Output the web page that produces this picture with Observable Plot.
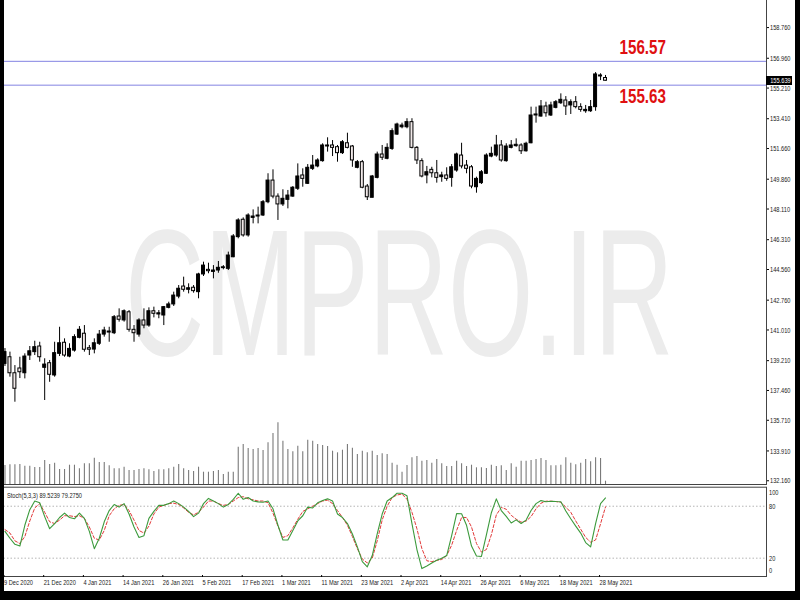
<!DOCTYPE html>
<html><head><meta charset="utf-8">
<script src="https://cdn.jsdelivr.net/npm/d3@7"></script>
<script src="https://cdn.jsdelivr.net/npm/@observablehq/plot@0.6"></script>
<style>
html,body{margin:0;padding:0;background:#000;}
#chart{position:relative;width:800px;height:600px;background:#000;overflow:hidden;}
#paper{position:absolute;left:4px;top:0;width:791px;height:591px;background:#fff;}
#chart svg{position:absolute;left:0;top:0;}
.strip{position:absolute;background:#000;}
#pricebox{position:absolute;background:#000;color:#fff;font:8px 'Liberation Sans',Arial,sans-serif;line-height:9px;text-align:center;overflow:hidden;}
#pricebox span{display:inline-block;transform:scaleX(0.71);transform-origin:50% 50%;}
</style>
</head><body>
<div id="chart"><div id="paper"></div></div>
<script>
// ---- data (GBPJPY daily, 9 Dec 2020 .. 31 May 2021) ----
const open = [139.02,139.41,138.47,138.75,138.47,139.51,139.71,140.04,138.79,139.06,138.34,139.61,140.26,139.45,139.80,140.55,140.79,139.94,139.86,140.20,140.74,140.86,140.82,141.80,141.57,142.05,141.02,140.74,141.57,141.27,142.11,141.92,141.86,142.31,142.51,142.97,143.56,143.37,143.49,143.23,144.27,144.54,144.42,144.50,144.64,144.60,145.28,146.46,147.48,146.56,147.59,147.67,147.73,148.51,149.78,148.84,148.38,148.65,148.84,149.30,150.08,149.59,150.47,150.61,150.92,151.78,151.84,151.74,151.39,151.97,151.78,150.53,150.86,149.43,148.77,149.94,151.31,151.06,151.64,152.48,152.91,152.91,153.21,151.70,150.92,150.08,150.41,150.21,149.98,150.08,149.94,150.37,151.25,150.66,150.56,149.39,149.63,150.18,151.19,151.25,151.84,150.92,151.70,151.80,151.84,151.50,151.97,153.60,153.54,154.13,153.60,154.05,154.32,154.48,154.19,154.38,154.09,153.85,153.85,154.09,155.95,155.80];
const high = [139.92,139.71,138.92,139.41,139.61,140.04,140.35,140.29,139.32,139.22,140.29,141.17,140.49,140.20,140.73,141.21,141.27,140.10,140.49,140.98,141.17,141.17,141.86,142.25,142.19,142.15,141.27,141.67,142.25,142.31,142.35,142.15,142.39,142.64,143.23,143.62,144.11,143.72,143.62,144.34,144.99,144.93,144.79,145.03,144.79,145.58,146.61,147.54,147.59,147.83,148.06,148.22,148.61,150.18,150.41,149.00,149.24,149.20,149.43,150.76,150.47,150.72,151.25,151.06,151.94,152.29,152.13,151.84,152.13,152.56,151.84,150.96,150.96,149.55,150.08,151.45,151.84,151.94,152.82,153.15,153.15,153.41,153.41,151.78,151.06,150.61,150.56,150.96,150.27,150.53,150.72,151.39,151.97,150.96,150.66,149.98,150.37,151.35,151.74,152.43,152.13,151.94,152.13,152.23,151.94,152.03,154.09,154.09,154.48,154.38,154.38,154.48,154.87,154.71,154.52,154.71,154.29,154.19,154.48,156.12,156.05,155.95];
const low = [138.87,138.24,136.77,138.16,138.14,139.22,139.51,139.12,136.87,137.94,138.24,139.45,139.41,139.38,139.71,140.49,139.71,139.51,139.61,140.10,140.59,140.29,140.74,141.47,141.47,140.88,140.29,140.59,141.08,141.17,141.72,141.67,141.27,142.25,142.39,142.84,143.23,143.13,143.17,142.84,144.15,144.31,144.01,144.34,144.54,144.50,145.25,146.36,146.46,146.46,147.24,147.24,147.67,148.42,148.71,147.44,148.26,148.12,148.80,149.20,149.39,149.55,150.37,150.53,150.86,151.45,151.19,150.86,151.31,151.64,150.56,150.47,149.30,148.61,148.77,149.88,150.96,151.00,151.55,152.43,152.82,152.82,151.64,150.72,149.94,149.59,149.94,149.63,149.68,149.74,149.39,150.27,150.47,150.18,149.30,149.04,149.55,150.14,151.12,151.15,150.86,150.86,151.64,151.74,151.31,151.45,151.94,153.15,153.50,153.50,153.54,153.99,154.25,153.60,153.66,153.99,153.79,153.73,153.78,153.85,155.65,155.62];
const close = [139.71,138.47,137.56,138.53,139.45,139.76,140.00,139.41,138.98,138.38,139.65,140.23,139.51,139.90,140.59,141.02,139.85,139.85,140.23,140.74,140.98,140.92,141.76,141.61,142.11,141.02,140.82,141.57,141.27,142.11,141.96,141.99,142.35,142.51,143.03,143.43,143.37,143.46,143.29,144.27,144.79,144.46,144.50,144.66,144.69,145.38,146.50,147.44,146.56,147.73,147.67,147.73,148.51,149.78,148.84,148.38,148.71,148.90,149.36,150.02,149.88,150.53,150.66,150.96,151.84,151.84,151.70,151.39,152.03,151.70,150.96,150.86,149.36,148.80,150.02,151.31,151.12,151.70,152.68,153.07,153.01,153.21,151.70,150.96,150.02,150.27,150.21,149.94,150.08,149.88,150.56,151.31,150.61,150.47,149.43,149.88,150.27,151.25,151.35,151.84,150.96,151.78,151.84,151.88,151.50,151.94,153.60,153.66,154.13,153.73,154.19,154.38,154.52,154.13,154.38,154.09,153.93,153.93,154.09,156.01,155.89,155.639];
const volume = [1900,1970,1970,2000,1830,1830,1700,1700,2400,2000,2130,1500,1500,1930,1930,1570,2070,2070,2630,2200,2200,1870,1570,1570,1730,1400,1400,1500,1570,1470,1300,1470,1470,1570,1730,2000,1570,1400,1300,1730,1230,1230,1300,1400,1000,1230,1230,3730,4000,3600,3500,3600,3400,4170,5100,6170,4330,3500,3270,3830,3270,4430,4330,4000,3900,3800,3330,3170,3430,4000,3630,3000,3330,3170,3330,2900,3070,3000,2130,1930,1230,1900,2670,2800,2330,2400,2130,2500,2070,1800,1800,2330,2070,1800,1930,1670,1670,1600,1930,1800,1870,1400,2070,1730,2330,2330,2400,2500,2600,2400,1870,1870,1930,2670,2130,1970,2130,2500,2270,2670,2600,330];
const stochK = [51,43,36,34,58,76,86,84,68,54,60,67,72,67,65.5,72,66,51,31,43,62,75,82,79,83,71,56,44,46,66,74,81,81,83,86,83,79,74,68,72,83,89,86,83,79,82,88,95,88,90,86,85,84.6,86,77,58,41,41,52,63,69,79,78,84,86.6,88.5,86,71,67,60,48,33,16,10,23,48,71,86,90,95,95,92,60,30,8,11,14.5,17.5,20,23,46,71.5,71.3,58,34,22.5,22,47,72.5,88.5,75,68.3,60.6,64.2,60,64,75,83,86.5,85.2,85.8,85.4,85.2,74.5,65.5,57,49,38,33,60,83,89.5239];
const stochD = [53,49,40,37,45,63,78,83,73,62,60,64,69,69,68,69,66,56,43,41,52,69,77,81,82,75,64,52,49,57,71,79,81,83,83.5,82,78,73,70,73,79,86,86,83,81,82,86,90,91,88.5,87.4,86,86,84,72,57,44,46,55,65,74,77,80,83,86,87,83,75,67,58,45,31,19,14.5,20,40,64,80,90,93,94,88,73,54,31,17,16,17.5,18.5,23,35,52,67,67,56,37,27,30,47,70,78.6,76.5,69.5,65,61.6,62.8,68,77,83.5,85.8,85.8,85.4,84.5,79,73,63,53.5,44,38.5,41,59.7,79.275];
const priceTicks = [158.76,156.96,155.21,153.41,151.66,149.86,148.11,146.31,144.56,142.76,141.01,139.21,137.46,135.71,133.91,132.16];
const tickBars = [0,8,16,24,32,40,48,56,64,72,80,88,96,104,112,120];
const tickLabels = ["9 Dec 2020","21 Dec 2020","4 Jan 2021","14 Jan 2021","26 Jan 2021","5 Feb 2021","17 Feb 2021","1 Mar 2021","11 Mar 2021","23 Mar 2021","2 Apr 2021","14 Apr 2021","26 Apr 2021","6 May 2021","18 May 2021","28 May 2021"];
const levelPrices = [156.78, 155.38];
const levelLabels = ["156.57", "155.63"];
const stochTitle = "Stoch(5,3,3) 89.5239 79.2750";
const watermark = "CMPRO.IR";

// ---- build ----
const FONT = "'Liberation Sans',Arial,sans-serif";
const N = open.length;
const bars = d3.range(N).map(i => ({i, o: open[i], h: high[i], l: low[i], c: close[i]}));
const vols = volume.map((v, i) => ({i, v}));
const stoch = d3.range(N).map(i => ({i, k: stochK[i], d: stochD[i]}));
const labelOf = new Map(tickBars.map((b, j) => [b, tickLabels[j]]));

const xOpts = {type: "band", domain: d3.range(N), range: [2, 607.5], paddingInner: 0.4, paddingOuter: 0.2, align: 0.5, axis: null};
const style = {background: "transparent", fontFamily: FONT, fontSize: "8px", color: "#000", overflow: "visible"};
const common = {width: 800, height: 600, marginLeft: 0, marginRight: 34, style};

const chart = document.getElementById("chart");

// the screenshot is horizontally compressed: squeeze every text about its anchor point
function squeeze(svg) {
  d3.select(svg).selectAll("text").each(function() {
    const fs = parseFloat(getComputedStyle(this).fontSize);
    const f = fs > 12 ? 0.78 : 0.71;
    const xa = this.getAttribute("x");
    if (xa != null) {
      const m = /^(-?[\d.]+)(.*)$/.exec(xa.trim());
      if (m) this.setAttribute("x", (parseFloat(m[1]) / f) + m[2]);
    }
    const t = this.getAttribute("transform") || "";
    this.setAttribute("transform", `${t} scale(${f},1)`);
  });
}

// watermark
const WMF = 0.606;
const wm = d3.create("svg").attr("width", 800).attr("height", 600);
wm.append("text").attr("transform", `translate(125,355) scale(${WMF},1)`)
  .attr("font-family", FONT).attr("font-size", 181)
  .attr("fill", "#ececec").text(watermark);
chart.append(wm.node());

// volume
const volPlot = Plot.plot({...common, marginTop: 0, marginBottom: 116,
  x: xOpts,
  y: {domain: [0, 48400], axis: null},
  marks: [Plot.ruleX(vols, {x: "i", y: "v", stroke: "#7a7a7a", strokeWidth: 1.1})]
});
chart.append(volPlot);

// main price chart
const main = Plot.plot({...common, marginTop: 0, marginBottom: 116,
  x: xOpts,
  y: {domain: [131.94, 160.35]},
  marks: [
    Plot.ruleY(levelPrices, {stroke: "#8383e2", strokeWidth: 1}),
    Plot.ruleX(bars, {x: "i", y1: "l", y2: "h", stroke: "#000", strokeWidth: 1}),
    Plot.barY(bars, {x: "i", y1: "o", y2: "c", fill: d => d.c >= d.o ? "#000000" : "#f1e9e9", stroke: "#000", strokeWidth: 1}),
    Plot.axisY(priceTicks, {anchor: "right", tickSize: 2, tickPadding: 1.5, tickFormat: d3.format(".3f"), fill: "#222"}),
    Plot.frame({anchor: "right", stroke: "#444"}),
    Plot.frame({anchor: "bottom", stroke: "#444"}),
    Plot.text([levelLabels[0]], {x: () => N - 1, y: () => levelPrices[0], text: d => d, dx: 14, dy: -13.5, textAnchor: "start", fill: "#e01010", fontWeight: "bold", fontSize: 19.5, fontFamily: FONT}),
    Plot.text([levelLabels[1]], {x: () => N - 1, y: () => levelPrices[1], text: d => d, dx: 14, dy: 11.5, textAnchor: "start", fill: "#e01010", fontWeight: "bold", fontSize: 19.5, fontFamily: FONT})
  ]
});
chart.append(main);

// stochastic panel
const stochPlot = Plot.plot({...common, marginTop: 488.4, marginBottom: 25,
  x: xOpts,
  y: {domain: [0, 100]},
  marks: [
    Plot.ruleY([20, 80], {stroke: "#b5b5b5", strokeDasharray: "1.5,2"}),
    Plot.line(stoch, {x: "i", y: "d", stroke: "#e23a3a", strokeWidth: 1, strokeDasharray: "3,2"}),
    Plot.line(stoch, {x: "i", y: "k", stroke: "#3c9a3c", strokeWidth: 1.1}),
    Plot.frame({stroke: "#444", insetTop: -1.7, insetBottom: -1}),
    Plot.axisY([20, 80], {anchor: "right", tickSize: 0, tickPadding: 2.5, fill: "#222"}),
    Plot.axisY([100], {anchor: "right", tickSize: 0, tickPadding: 2.5, dy: 4, fill: "#222"}),
    Plot.axisY([0], {anchor: "right", tickSize: 0, tickPadding: 2.5, dy: -5, fill: "#222"}),
    Plot.text([stochTitle], {frameAnchor: "top-left", text: d => d, dx: 6.5, dy: 3, fontSize: 8, fill: "#222"}),
    Plot.axisX(tickBars, {anchor: "bottom", tickSize: 2, tickPadding: 2, textAnchor: "start", dx: -1, tickFormat: d => labelOf.get(d), fill: "#222"})
  ]
});
chart.append(stochPlot);

[main, stochPlot].forEach(squeeze);

// black window edges
[[0,0,4,600],[795,0,5,600],[0,591,800,9]].forEach(([l,t,w,h]) => {
  const s = document.createElement("div");
  s.className = "strip";
  Object.assign(s.style, {left: l + "px", top: t + "px", width: w + "px", height: h + "px"});
  chart.append(s);
});

// current price box on the price axis
const yS = main.scale("y");
const yy = yS.apply(close[N - 1]);
const box = document.createElement("div");
box.id = "pricebox";
Object.assign(box.style, {left: "766px", top: (yy - 4.5) + "px", width: "26px", height: "9px"});
const sp = document.createElement("span");
sp.textContent = d3.format(".3f")(close[N - 1]);
box.append(sp);
chart.append(box);
</script>
</body></html>
